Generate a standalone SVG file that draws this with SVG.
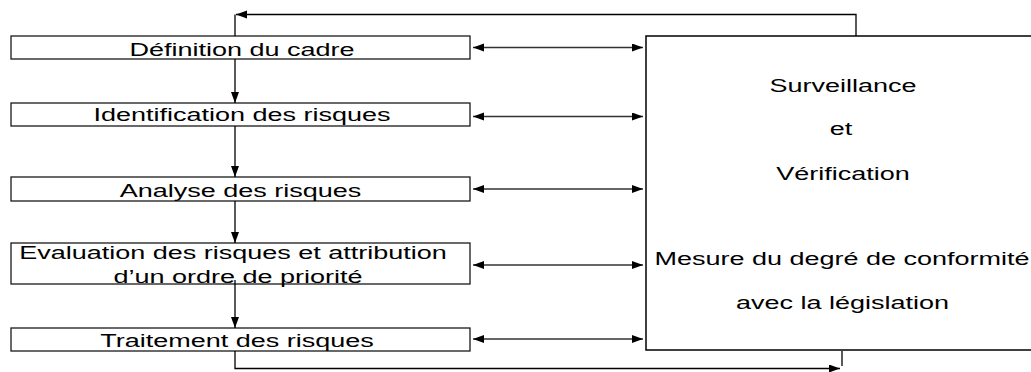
<svg xmlns="http://www.w3.org/2000/svg" width="1031" height="372" viewBox="0 0 1031 372">
  <style>
    .box { fill: #fff; stroke: #1a1a1a; stroke-width: 1.3; }
    .big { fill: #fff; stroke: #000; stroke-width: 1.5; }
    .lbl { font-family: "Liberation Sans", Arial, sans-serif; font-size: 18.5px; fill: #000; text-anchor: middle; }
    .flow { fill: none; stroke: #000; stroke-width: 1.3; }
    .link { fill: none; stroke: #333; stroke-width: 1.4; }
  </style>
  <defs>
    <marker id="head" markerUnits="userSpaceOnUse" markerWidth="13" markerHeight="9" refX="11" refY="4" orient="auto-start-reverse">
      <path d="M0,0 L11,4 L0,8 z" fill="#000"/>
    </marker>
  </defs>

  <!-- process steps -->
  <g id="step-cadre">
    <rect class="box" x="11" y="36" width="459" height="23"/>
    <text class="lbl" transform="translate(242 55.5) scale(1.46 1)">Définition du cadre</text>
  </g>
  <g id="step-identification">
    <rect class="box" x="11" y="103" width="459" height="23"/>
    <text class="lbl" transform="translate(242 121) scale(1.46 1)">Identification des risques</text>
  </g>
  <g id="step-analyse">
    <rect class="box" x="11" y="177" width="459" height="24"/>
    <text class="lbl" transform="translate(240.5 197) scale(1.46 1)">Analyse des risques</text>
  </g>
  <g id="step-evaluation">
    <rect class="box" x="11" y="243" width="459" height="41"/>
    <text class="lbl" transform="translate(233 259) scale(1.46 1)">Evaluation des risques et attribution</text>
    <text class="lbl" transform="translate(238 282.5) scale(1.46 1)">d’un ordre de priorité</text>
  </g>
  <g id="step-traitement">
    <rect class="box" x="11" y="328" width="459" height="23"/>
    <text class="lbl" transform="translate(237 346.5) scale(1.46 1)">Traitement des risques</text>
  </g>

  <!-- monitoring box (runs past the right edge) -->
  <g id="surveillance">
    <rect class="big" x="646" y="36" width="420" height="314"/>
    <text class="lbl" transform="translate(843 91.5) scale(1.46 1)">Surveillance</text>
    <text class="lbl" transform="translate(841 135) scale(1.46 1)">et</text>
    <text class="lbl" transform="translate(843 179.5) scale(1.46 1)">Vérification</text>
    <text class="lbl" transform="translate(842 265) scale(1.46 1)">Mesure du degré de conformité</text>
    <text class="lbl" transform="translate(842.5 309) scale(1.46 1)">avec la législation</text>
  </g>

  <g id="connectors">
    <!-- downward flow between steps -->
    <line class="flow" x1="235" y1="59" x2="235" y2="103" marker-end="url(#head)"/>
    <line class="flow" x1="235" y1="126" x2="235" y2="177" marker-end="url(#head)"/>
    <line class="flow" x1="235" y1="201" x2="235" y2="243" marker-end="url(#head)"/>
    <line class="flow" x1="235" y1="280" x2="235" y2="328" marker-end="url(#head)"/>

    <!-- two-way links to the monitoring box -->
    <line class="link" x1="473" y1="47.5" x2="643" y2="47.5" marker-start="url(#head)" marker-end="url(#head)"/>
    <line class="link" x1="473" y1="116.5" x2="643" y2="116.5" marker-start="url(#head)" marker-end="url(#head)"/>
    <line class="link" x1="473" y1="189" x2="643" y2="189" marker-start="url(#head)" marker-end="url(#head)"/>
    <line class="link" x1="473" y1="265" x2="643" y2="265" marker-start="url(#head)" marker-end="url(#head)"/>
    <line class="link" x1="473" y1="339" x2="643" y2="339" marker-start="url(#head)" marker-end="url(#head)"/>

    <!-- feedback loop over the top -->
    <polyline class="flow" points="856,36 856,14.5 236,14.5" marker-end="url(#head)"/>
    <line class="flow" x1="235" y1="14.5" x2="235" y2="36"/>

    <!-- return path underneath -->
    <polyline class="flow" points="235,351 235,368.5 840,368.5" marker-end="url(#head)"/>
    <line class="flow" x1="842" y1="351" x2="842" y2="366"/>
  </g>
</svg>
